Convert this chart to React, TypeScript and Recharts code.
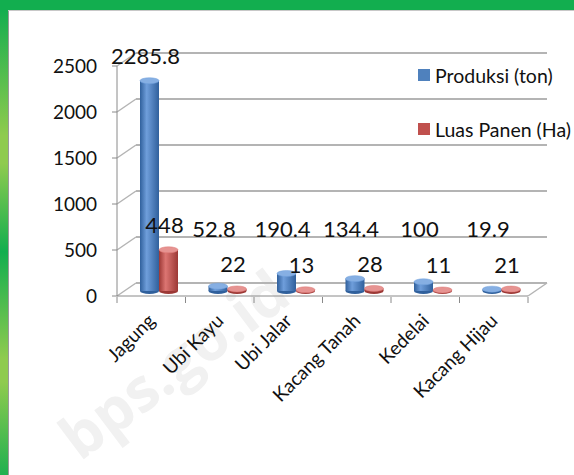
import React from 'react';
import { BarChart, Bar, XAxis, YAxis, CartesianGrid, LabelList } from 'recharts';

// Chart data
const categories = ['Jagung', 'Ubi Kayu', 'Ubi Jalar', 'Kacang Tanah', 'Kedelai', 'Kacang Hijau'];
const produksi = [2285.8, 52.8, 190.4, 134.4, 100, 19.9];
const luasPanen = [448, 22, 13, 28, 11, 21];
const yTicks = [0, 500, 1000, 1500, 2000, 2500];
const seriesNames = ['Produksi (ton)', 'Luas Panen (Ha)'];

interface Row {
  name: string;
  produksi: number;
  luasPanen: number;
}

const rows: Row[] = categories.map((name, i) => ({
  name,
  produksi: produksi[i],
  luasPanen: luasPanen[i],
}));

const W = 574;
const H = 475;
const margin = { top: 66, right: 46, bottom: 59, left: 0 };
const Y_AXIS_W = 117;
const X_AXIS_H = 120;
const plotBottom = H - margin.bottom - X_AXIS_H;
const plotLeft = margin.left + Y_AXIS_W;
const band = (W - margin.right - plotLeft) / categories.length;

// 3D look: depth of the back wall, and how far bars sit into it
const DEPTH_X = 19;
const DEPTH_Y = -13;
const BAR_DX = 8;
const BAR_DY = -5;

const FONT = 'Lato, "Liberation Sans", sans-serif';
const AXIS_GRAY = '#8a8a8a';

interface Palette {
  id: string;
  edge: string;
  mid: string;
  top: string;
}

const blue: Palette = { id: 'cylBlue', edge: '#30609c', mid: '#6f9edb', top: '#86afe3' };
const red: Palette = { id: 'cylRed', edge: '#9c3835', mid: '#dc7572', top: '#e69391' };

const makeCylinder = (p: Palette) => (props: any) => {
  const { x, y, width, height } = props;
  if (width == null || height == null) return null;
  const cx = x + width / 2 + BAR_DX;
  const top = y + BAR_DY;
  const ry = 3;
  return (
    <g>
      <ellipse cx={cx} cy={top + height} rx={width / 2} ry={ry} fill={p.edge} />
      <rect x={x + BAR_DX} y={top} width={width} height={Math.max(height, 0)} fill={`url(#${p.id})`} />
      <ellipse cx={cx} cy={top} rx={width / 2} ry={ry} fill={p.top} stroke={p.mid} strokeWidth={0.5} />
    </g>
  );
};

const gradient = (p: Palette) => (
  <linearGradient id={p.id} x1="0" y1="0" x2="1" y2="0">
    <stop offset="0%" stopColor={p.edge} />
    <stop offset="35%" stopColor={p.mid} />
    <stop offset="100%" stopColor={p.edge} />
  </linearGradient>
);

const gridLine = (props: any) => {
  const { x1, x2, y1, key } = props;
  const bx = x1 + DEPTH_X;
  const by = y1 + DEPTH_Y;
  const isFloor = Math.abs(y1 - plotBottom) < 1;
  return (
    <g key={key}>
      <line x1={x1} y1={y1} x2={bx} y2={by} stroke="#b4b4b4" strokeWidth={1.5} />
      <line x1={bx} y1={by} x2={x2 + DEPTH_X} y2={by} stroke="#b4b4b4" strokeWidth={2} />
      {isFloor && (
        <line x1={x2} y1={y1} x2={x2 + DEPTH_X} y2={by} stroke="#b4b4b4" strokeWidth={1.5} />
      )}
    </g>
  );
};

const CategoryTick = (props: any) => {
  const { x, y, payload, index } = props;
  const left = x - band / 2;
  const last = index === categories.length - 1;
  const tx = x + 5;
  const ty = y + 26;
  return (
    <g>
      <line x1={left} y1={y + 1} x2={left} y2={y + 7} stroke={AXIS_GRAY} />
      {last && <line x1={x + band / 2} y1={y + 1} x2={x + band / 2} y2={y + 7} stroke={AXIS_GRAY} />}
      <text
        x={tx}
        y={ty}
        textAnchor="end"
        transform={`rotate(-45, ${tx}, ${ty})`}
        fontFamily={FONT}
        fontSize={19}
        fill="#111"
      >
        {payload.value}
      </text>
    </g>
  );
};

const valueLabel = (series: 'produksi' | 'luasPanen') => (props: any) => {
  const { x, y, width, value } = props;
  const cx = x + width / 2 + BAR_DX - 4;
  const top = y + BAR_DY;
  const cy = series === 'produksi' ? Math.min(top - 25, plotBottom - 68) : top - 25;
  return (
    <text
      x={cx}
      y={cy}
      textAnchor="middle"
      dominantBaseline="central"
      fontFamily={FONT}
      fontSize={22}
      fill="#111"
    >
      {value}
    </text>
  );
};

const LegendBox: React.FC = () => (
  <div style={{ position: 'absolute', left: 418, top: 64, fontFamily: FONT, fontSize: 19.5, color: '#111' }}>
    {seriesNames.map((name, i) => (
      <div key={name} style={{ display: 'flex', alignItems: 'center', height: 22, marginBottom: i === 0 ? 32 : 0 }}>
        <span
          style={{
            display: 'inline-block',
            width: 12,
            height: 12,
            background: i === 0 ? '#4f81bd' : '#c0504d',
            marginRight: 5,
          }}
        />
        <span style={{ whiteSpace: 'nowrap' }}>{name}</span>
      </div>
    ))}
  </div>
);

const App: React.FC = () => {
  return (
    <div
      style={{
        position: 'fixed',
        left: 0,
        top: 0,
        width: W,
        height: H,
        background: '#fff',
        overflow: 'hidden',
      }}
    >
      {/* green frame */}
      <div style={{ position: 'absolute', left: 0, top: 0, width: W, height: 10, background: '#12ae4f' }} />
      <div
        style={{
          position: 'absolute',
          left: 0,
          top: 10,
          width: 8,
          height: H - 10,
          background:
            'linear-gradient(to bottom, #14ae4f 0%, #8fcb4e 27%, #8fcb4e 33%, #12ae4e 52%, #8fcb4e 75%, #8fcb4e 80%, #20b050 100%)',
        }}
      />
      <div style={{ position: 'absolute', left: 8, top: 10, width: 1, height: H - 10, background: '#9a9a9a' }} />
      <div style={{ position: 'absolute', left: 8, top: 10, width: W - 8, height: 1, background: '#c8c8c8' }} />

      {/* watermark */}
      <svg width={W} height={H} style={{ position: 'absolute', left: 0, top: 0 }}>
        <text
          x={80}
          y={462}
          transform="rotate(-37, 80, 462)"
          fontFamily='"Open Sans", sans-serif'
          fontWeight={700}
          fontSize={60}
          fill="#f1f1f1"
        >
          bps.go.id
        </text>
      </svg>

      <div style={{ position: 'absolute', left: 0, top: 0 }}>
        <BarChart width={W} height={H} data={rows} margin={margin} barGap={0} barSize={19}>
          <defs>
            {gradient(blue)}
            {gradient(red)}
          </defs>
          <CartesianGrid horizontal={gridLine} vertical={false} />
          <XAxis
            dataKey="name"
            height={X_AXIS_H}
            interval={0}
            tickLine={false}
            tickSize={0}
            tickMargin={0}
            axisLine={{ stroke: AXIS_GRAY }}
            tick={<CategoryTick />}
          />
          <YAxis
            width={Y_AXIS_W}
            domain={[0, 2500]}
            ticks={yTicks}
            interval={0}
            tickSize={5}
            tickMargin={15}
            axisLine={{ stroke: AXIS_GRAY }}
            tickLine={{ stroke: AXIS_GRAY }}
            tick={{ fontFamily: FONT, fontSize: 19, fill: '#111' }}
          />
          <Bar dataKey="produksi" name={seriesNames[0]} fill="#4f81bd" shape={makeCylinder(blue)} isAnimationActive={false}>
            <LabelList dataKey="produksi" content={valueLabel('produksi')} />
          </Bar>
          <Bar dataKey="luasPanen" name={seriesNames[1]} fill="#c0504d" shape={makeCylinder(red)} isAnimationActive={false}>
            <LabelList dataKey="luasPanen" content={valueLabel('luasPanen')} />
          </Bar>
        </BarChart>
      </div>

      <LegendBox />
    </div>
  );
};

export default App;
